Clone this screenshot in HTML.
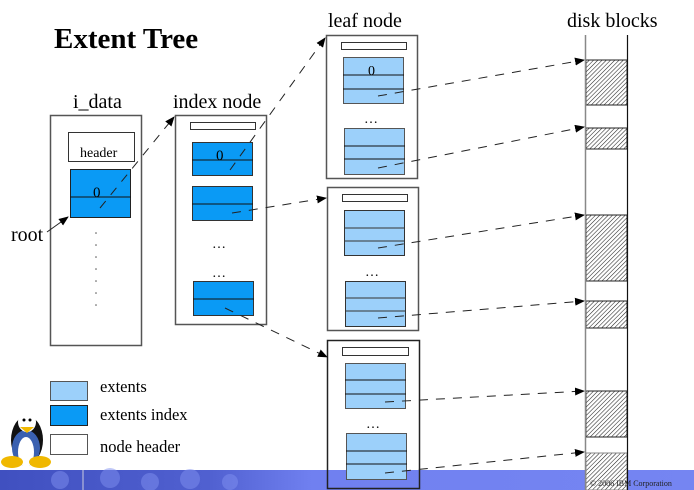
<!DOCTYPE html>
<html><head><meta charset="utf-8"><style>
html,body{margin:0;padding:0;background:#fff;}
svg{display:block;font-family:"Liberation Serif",serif;}
</style></head><body>
<svg width="694" height="490" viewBox="0 0 694 490" xmlns="http://www.w3.org/2000/svg">
<defs>
<pattern id="h" width="3" height="3" patternUnits="userSpaceOnUse" patternTransform="rotate(45)">
<rect width="3" height="3" fill="#fff"/><line x1="0" y1="0" x2="0" y2="3" stroke="#222" stroke-width="1.1"/>
</pattern>
<marker id="a" markerWidth="10" markerHeight="8" refX="9" refY="4" orient="auto" markerUnits="userSpaceOnUse">
<path d="M0,0 L10,4 L0,8 z" fill="#000"/></marker>
<linearGradient id="band" x1="0" x2="1" y1="0" y2="0">
<stop offset="0" stop-color="#4050c0"/><stop offset="0.3" stop-color="#5060d0"/><stop offset="0.45" stop-color="#7080f0"/><stop offset="1" stop-color="#7585f2"/>
</linearGradient>
</defs>

<rect x="0" y="470" width="694" height="20" fill="url(#band)"/>
<g fill="#8090f0" opacity="0.5">
<circle cx="60" cy="480" r="9"/><circle cx="110" cy="478" r="10"/><circle cx="150" cy="482" r="9"/><circle cx="190" cy="479" r="10"/><circle cx="230" cy="482" r="8"/>
</g>
<line x1="83" y1="470" x2="83" y2="490" stroke="#ccd" stroke-width="1"/>

<text x="54" y="48" font-size="29" font-weight="bold">Extent Tree</text>
<text x="73" y="108" font-size="20">i_data</text>
<text x="173" y="108" font-size="20">index node</text>
<text x="328" y="27" font-size="20">leaf node</text>
<text x="567" y="27" font-size="20">disk blocks</text>
<text x="11" y="241" font-size="20">root</text>

<rect x="50.5" y="115.5" width="91" height="230" fill="#fff" stroke="#555" stroke-width="1.5"/>
<rect x="68.5" y="132.5" width="66" height="29" fill="#fff" stroke="#333"/>
<text x="80" y="157" font-size="14">header</text>
<rect x="70.5" y="169.5" width="60" height="48" fill="#0a9af5" stroke="#222"/>
<line x1="70" y1="197" x2="131" y2="197" stroke="#111"/>
<text x="93" y="197" font-size="15">0</text>
<g fill="#555"><circle cx="96" cy="233" r="0.8"/><circle cx="96" cy="245" r="0.8"/><circle cx="96" cy="257" r="0.8"/><circle cx="96" cy="269" r="0.8"/><circle cx="96" cy="281" r="0.8"/><circle cx="96" cy="293" r="0.8"/><circle cx="96" cy="305" r="0.8"/></g>

<rect x="175.5" y="115.5" width="91" height="209" fill="#fff" stroke="#555" stroke-width="1.5"/>
<rect x="190.5" y="122.5" width="65" height="7" fill="#fff" stroke="#333"/>
<rect x="192.5" y="142.5" width="60" height="33" fill="#0a9af5" stroke="#333"/>
<line x1="192" y1="160" x2="253" y2="160" stroke="#111"/>
<text x="216" y="160" font-size="15">0</text>
<rect x="192.5" y="186.5" width="60" height="34" fill="#0a9af5" stroke="#333"/>
<line x1="192" y1="204" x2="253" y2="204" stroke="#111"/>
<text x="212" y="248" font-size="14">…</text>
<text x="212" y="277" font-size="14">…</text>
<rect x="193.5" y="281.5" width="60" height="34" fill="#0a9af5" stroke="#333"/>
<line x1="193" y1="299" x2="254" y2="299" stroke="#111"/>

<rect x="326.5" y="35.5" width="91" height="143" fill="#fff" stroke="#555" stroke-width="1.5"/>
<rect x="341.5" y="42.5" width="65" height="7" fill="#fff" stroke="#333"/>
<rect x="343.5" y="57.5" width="60" height="46" fill="#9cd0fa" stroke="#555"/>
<line x1="343" y1="75" x2="404" y2="75" stroke="#111"/><line x1="343" y1="89" x2="404" y2="89" stroke="#111"/>
<text x="368" y="75" font-size="14">0</text>
<text x="364" y="123" font-size="14">…</text>
<rect x="344.5" y="128.5" width="60" height="46" fill="#9cd0fa" stroke="#555"/>
<line x1="344" y1="146" x2="405" y2="146" stroke="#111"/><line x1="344" y1="159" x2="405" y2="159" stroke="#111"/>

<rect x="327.5" y="187.5" width="91" height="143" fill="#fff" stroke="#555" stroke-width="1.5"/>
<rect x="342.5" y="194.5" width="65" height="7" fill="#fff" stroke="#333"/>
<rect x="344.5" y="210.5" width="60" height="45" fill="#9cd0fa" stroke="#333"/>
<line x1="344" y1="228" x2="405" y2="228" stroke="#333"/><line x1="344" y1="241" x2="405" y2="241" stroke="#333"/>
<text x="365" y="276" font-size="14">…</text>
<rect x="345.5" y="281.5" width="60" height="45" fill="#9cd0fa" stroke="#333"/>
<line x1="345" y1="298" x2="406" y2="298" stroke="#333"/><line x1="345" y1="311" x2="406" y2="311" stroke="#333"/>

<rect x="328" y="341" width="91" height="129" fill="#fff"/>
<rect x="327.5" y="340.5" width="92" height="148" fill="none" stroke="#222" stroke-width="1.5"/>
<rect x="342.5" y="347.5" width="66" height="8" fill="#fff" stroke="#333"/>
<rect x="345.5" y="363.5" width="60" height="45" fill="#9cd0fa" stroke="#555"/>
<line x1="345" y1="380" x2="406" y2="380" stroke="#111"/><line x1="345" y1="394" x2="406" y2="394" stroke="#111"/>
<text x="366" y="428" font-size="14">…</text>
<rect x="346.5" y="433.5" width="60" height="46" fill="#9cd0fa" stroke="#555"/>
<line x1="346" y1="451" x2="407" y2="451" stroke="#111"/><line x1="346" y1="464" x2="407" y2="464" stroke="#111"/>

<rect x="586" y="60" width="41" height="45" fill="url(#h)" stroke="#222"/>
<rect x="586" y="128" width="41" height="21" fill="url(#h)" stroke="#222"/>
<rect x="586" y="215" width="41" height="66" fill="url(#h)" stroke="#222"/>
<rect x="586" y="301" width="41" height="27" fill="url(#h)" stroke="#222"/>
<rect x="586" y="391" width="41" height="46" fill="url(#h)" stroke="#222"/>
<rect x="586" y="453" width="41" height="37" fill="url(#h)" stroke="#888"/>
<line x1="585.5" y1="35" x2="585.5" y2="490" stroke="#888" stroke-width="1.5"/>
<line x1="627.5" y1="35" x2="627.5" y2="490" stroke="#111" stroke-width="1.2"/>
<text x="590" y="486" font-size="8" fill="#222">© 2006 IBM Corporation</text>

<g stroke="#222" stroke-width="1" fill="none" stroke-dasharray="9,8" marker-end="url(#a)">
<line x1="47" y1="232" x2="68" y2="217" stroke-dasharray="none"/>
<line x1="100" y1="208" x2="174" y2="117"/>
<line x1="230" y1="170" x2="325" y2="38"/>
<line x1="232" y1="213" x2="326" y2="198"/>
<line x1="225" y1="308" x2="327" y2="357"/>
<line x1="378" y1="96" x2="584" y2="60"/>
<line x1="378" y1="168" x2="584" y2="127"/>
<line x1="378" y1="248" x2="584" y2="215"/>
<line x1="378" y1="318" x2="584" y2="301"/>
<line x1="385" y1="402" x2="584" y2="391"/>
<line x1="385" y1="473" x2="584" y2="452"/>
</g>

<rect x="50.5" y="381.5" width="37" height="19" fill="#9cd0fa" stroke="#555"/>
<rect x="50.5" y="405.5" width="37" height="20" fill="#0a9af5" stroke="#222"/>
<rect x="50.5" y="434.5" width="37" height="20" fill="#fff" stroke="#555"/>
<text x="100" y="392" font-size="16.5">extents</text>
<text x="100" y="420" font-size="16.5">extents index</text>
<text x="100" y="452" font-size="16.5">node header</text>

<ellipse cx="27" cy="440" rx="16" ry="24" fill="#111"/>
<ellipse cx="26" cy="448" rx="14" ry="18" fill="#3a60b0"/>
<ellipse cx="26" cy="452" rx="8" ry="15" fill="#fff"/>
<ellipse cx="27" cy="422" rx="9" ry="10" fill="#fff"/>
<circle cx="24" cy="420" r="1.5" fill="#000"/><circle cx="30" cy="420" r="1.5" fill="#000"/>
<path d="M20,427 L34,427 L27,433 z" fill="#f0b800"/>
<ellipse cx="12" cy="462" rx="11" ry="6" fill="#f0b800"/>
<ellipse cx="40" cy="462" rx="11" ry="6" fill="#f0b800"/>
</svg>
</body></html>
